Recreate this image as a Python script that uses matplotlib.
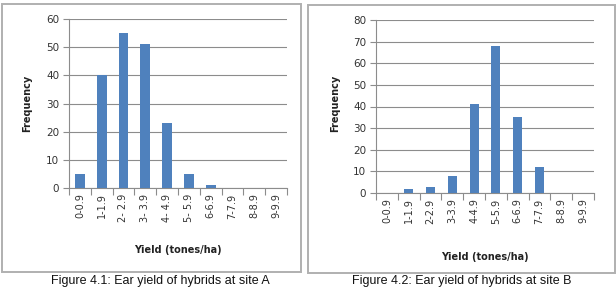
import matplotlib.pyplot as plt
from matplotlib.patches import Rectangle

# data
cats_a = ['0-0.9', '1-1.9', '2- 2.9', '3- 3.9', '4- 4.9', '5- 5.9',
          '6-6.9', '7-7.9', '8-8.9', '9-9.9']
freq_a = [5, 40, 55, 51, 23, 5, 1, 0, 0, 0]

cats_b = ['0-0.9', '1-1.9', '2-2.9', '3-3.9', '4-4.9', '5-5.9',
          '6-6.9', '7-7.9', '8-8.9', '9-9.9']
freq_b = [0, 2, 3, 8, 41, 68, 35, 12, 0, 0]

W, H = 616, 288
fig = plt.figure(figsize=(W / 100, H / 100), dpi=100)
fig.patch.set_facecolor('white')

def px_rect(x0, y0, x1, y1):
    # pixel box (top-left origin) -> figure fraction
    return [x0 / W, 1 - y1 / H, (x1 - x0) / W, (y1 - y0) / H]

# panel borders
for x0, y0, x1, y1 in [(2, 4, 301, 272), (308, 5, 615, 273)]:
    fig.patches.append(Rectangle((x0 / W, 1 - y1 / H), (x1 - x0) / W, (y1 - y0) / H,
                                 transform=fig.transFigure, fill=False,
                                 edgecolor='#b0b0b0', linewidth=1.4))

bar_col = '#4F81BD'
grid_col = '#8c8c8c'

def hist_panel(rect, cats, vals, ymax, bw, xlab_y, ylab_x):
    ax = fig.add_axes(rect)
    x = range(len(cats))
    ax.bar(x, vals, width=bw, color=bar_col, zorder=3)
    ax.set_xlim(-0.5, len(cats) - 0.5)
    ax.set_ylim(0, ymax)
    ax.set_yticks(range(0, ymax + 1, 10))
    ax.yaxis.grid(True, color=grid_col, linewidth=0.8)
    ax.set_axisbelow(True)
    for s in ['top', 'right']:
        ax.spines[s].set_visible(False)
    for s in ['left', 'bottom']:
        ax.spines[s].set_color(grid_col)
        ax.spines[s].set_linewidth(0.8)
    ax.set_xticks(list(x))
    ax.set_xticklabels(cats, rotation=90, fontsize=7, color='#333333')
    ax.set_xticks([i - 0.5 for i in range(len(cats) + 1)], minor=True)
    ax.tick_params(axis='x', which='major', length=0, pad=4)
    ax.tick_params(axis='x', which='minor', length=5, color=grid_col, width=0.8)
    ax.tick_params(axis='y', length=4, color=grid_col, width=0.8, labelsize=7.5,
                   labelcolor='#333333', pad=3)
    fig.text(ylab_x[0] / W, 1 - ylab_x[1] / H, 'Frequency', rotation=90,
             fontsize=7, fontweight='bold', color='#222222', ha='center', va='center')
    fig.text(xlab_y[0] / W, 1 - xlab_y[1] / H, 'Yield (tones/ha)',
             fontsize=7, fontweight='bold', color='#222222', ha='center', va='center')
    return ax

hist_panel(px_rect(69, 19, 287, 188), cats_a, freq_a, 60, 0.45, (178, 250), (27, 103))
hist_panel(px_rect(376, 20, 594, 193), cats_b, freq_b, 80, 0.42, (485, 257), (335, 103))

# captions under the panels
fig.text(160 / W, 1 / H, 'Figure 4.1: Ear yield of hybrids at site A',
         fontsize=9, family='Liberation Sans', ha='center', va='bottom', color='#111111')
fig.text(462 / W, 1 / H, 'Figure 4.2: Ear yield of hybrids at site B',
         fontsize=9, family='Liberation Sans', ha='center', va='bottom', color='#111111')

fig.savefig('out.png', dpi=100, facecolor='white')
